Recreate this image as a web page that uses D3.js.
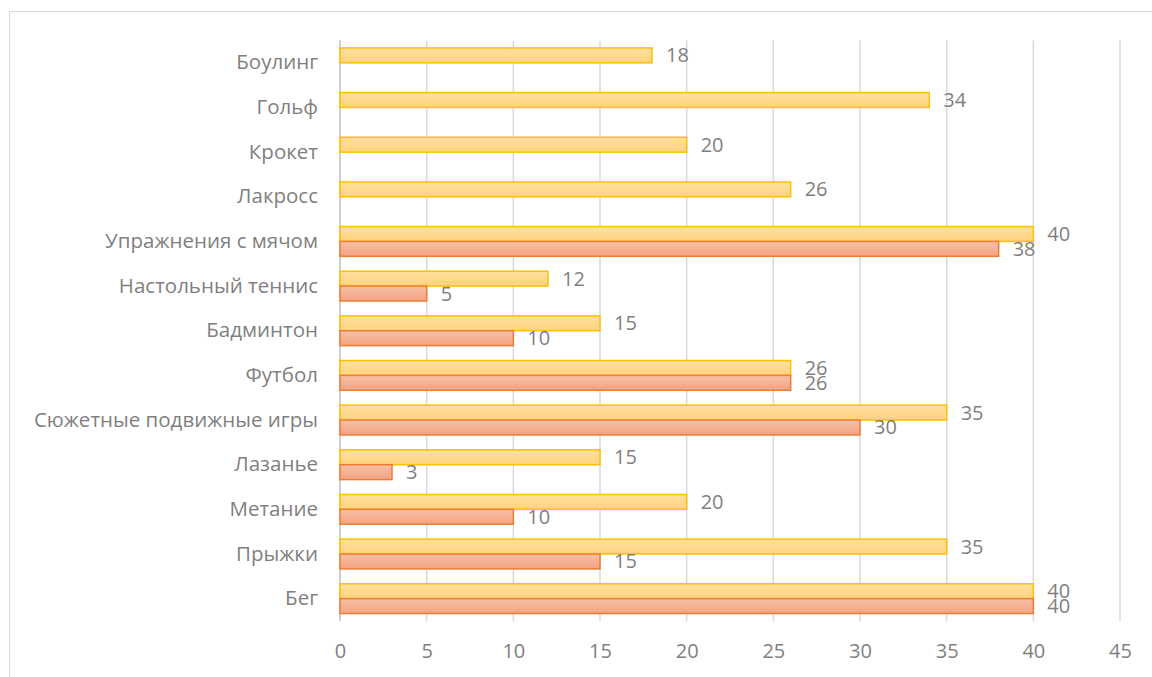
<!DOCTYPE html>
<html>
<head>
<meta charset="utf-8">
<script src="https://cdn.jsdelivr.net/npm/d3@7"></script>
<style>
  body { margin: 0; background: #fff; }
  text { font-family: "Open Sans", "Noto Sans", sans-serif; }
</style>
</head>
<body>
<script>
const w = 1152;
const h = 677;

// categories from top to bottom
const categories = [
  "Боулинг", "Гольф", "Крокет", "Лакросс", "Упражнения с мячом",
  "Настольный теннис", "Бадминтон", "Футбол", "Сюжетные подвижные игры",
  "Лазанье", "Метание", "Прыжки", "Бег"
];
const yellowValues = [18, 34, 20, 26, 40, 12, 15, 26, 35, 15, 20, 35, 40];
const orangeValues = [null, null, null, null, 38, 5, 10, 26, 30, 3, 10, 15, 40];
const xTicks = [0, 5, 10, 15, 20, 25, 30, 35, 40, 45];

const margin = { left: 340, right: 32, top: 40.5, bottom: 56 };

const svg = d3
  .select("body")
  .append("svg")
  .attr("width", w)
  .attr("height", h);

const defs = svg.append("defs");
function grad(id, c1, c2) {
  const g = defs.append("linearGradient")
    .attr("id", id)
    .attr("x1", 0).attr("y1", 0).attr("x2", 0).attr("y2", 1);
  g.append("stop").attr("offset", "0%").attr("stop-color", c1);
  g.append("stop").attr("offset", "100%").attr("stop-color", c2);
}
grad("gYellow", "#ffe19f", "#ffd27f");
grad("gOrange", "#f8c0a6", "#f3a381");

// chart frame
svg.append("rect")
  .attr("x", 9.5).attr("y", 11.5)
  .attr("width", w + 10).attr("height", h + 10)
  .attr("fill", "none")
  .attr("stroke", "#d9d9d9")
  .attr("stroke-width", 1);

const xScale = d3.scaleLinear()
  .domain([0, 45])
  .range([margin.left, w - margin.right]);

const yScale = d3.scaleBand()
  .domain(categories)
  .range([margin.top, h - margin.bottom])
  .paddingInner(1 / 3)
  .paddingOuter(1 / 6);

const series = ["yellow", "orange"];
const ySub = d3.scaleBand()
  .domain(series)
  .range([0, yScale.bandwidth()]);

// gridlines
svg.append("g")
  .selectAll("line")
  .data(xTicks)
  .enter()
  .append("line")
  .attr("x1", d => xScale(d)).attr("x2", d => xScale(d))
  .attr("y1", margin.top).attr("y2", h - margin.bottom)
  .attr("stroke", d => d === 0 ? "#bfbfbf" : "#d9d9d9")
  .attr("stroke-width", 1.5);

// x axis
const xAxis = d3.axisBottom(xScale).tickValues(xTicks).tickSize(0).tickPadding(23);
svg.append("g")
  .attr("transform", "translate(0," + (h - margin.bottom) + ")")
  .call(xAxis)
  .call(g => g.select(".domain").remove())
  .selectAll("text")
  .style("font-size", "20px")
  .style("fill", "#7f7f7f");

// y axis
const yAxis = d3.axisLeft(yScale).tickSize(0).tickPadding(22);
svg.append("g")
  .attr("transform", "translate(" + margin.left + ",0)")
  .call(yAxis)
  .call(g => g.select(".domain").remove())
  .selectAll("text")
  .style("font-size", "20.5px")
  .style("fill", "#7f7f7f");

const rows = categories.map((c, i) => ({
  cat: c,
  vals: [
    { s: "yellow", v: yellowValues[i] },
    { s: "orange", v: orangeValues[i] }
  ].filter(d => d.v !== null)
}));

const fills = { yellow: "url(#gYellow)", orange: "url(#gOrange)" };
const strokes = { yellow: "#ffc000", orange: "#ed7d31" };

const groups = svg.append("g")
  .selectAll("g")
  .data(rows)
  .enter()
  .append("g")
  .attr("transform", d => "translate(0," + yScale(d.cat) + ")");

groups.selectAll("rect")
  .data(d => d.vals)
  .enter()
  .append("rect")
  .attr("x", xScale(0))
  .attr("y", d => ySub(d.s))
  .attr("width", d => xScale(d.v) - xScale(0))
  .attr("height", ySub.bandwidth())
  .attr("fill", d => fills[d.s])
  .attr("stroke", d => strokes[d.s])
  .attr("stroke-width", 1.5);

groups.selectAll("text")
  .data(d => d.vals)
  .enter()
  .append("text")
  .attr("x", d => xScale(d.v) + 14)
  .attr("y", d => ySub(d.s) + ySub.bandwidth() / 2)
  .attr("dy", "0.35em")
  .text(d => d.v)
  .style("font-size", "20px")
  .style("fill", "#7f7f7f");
</script>
</body>
</html>
